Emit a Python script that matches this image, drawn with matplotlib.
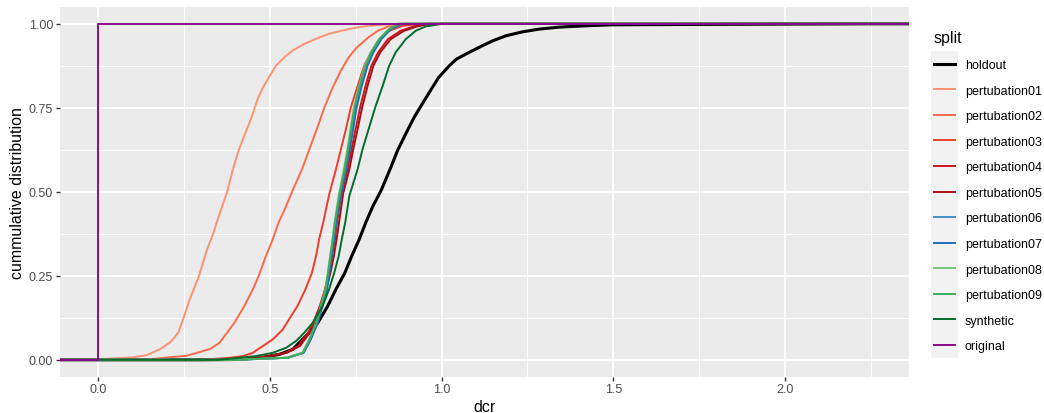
import matplotlib
matplotlib.use("Agg")
import matplotlib.pyplot as plt
from matplotlib.patches import Rectangle
from matplotlib.ticker import MultipleLocator

plt.rcParams['font.family'] = ['Liberation Sans', 'DejaVu Sans']

# ECDF curves: dcr value and cumulative share at that value
holdout_dcr = [0.30, 0.41, 0.469, 0.527, 0.566, 0.614, 0.639, 0.668, 0.692, 0.718, 0.738, 0.760, 0.779,
               0.800, 0.824, 0.852, 0.871, 0.895, 0.920, 0.940, 0.964, 0.991, 1.022, 1.043, 1.080, 1.119,
               1.148, 1.186, 1.235, 1.283, 1.341, 1.418, 1.495, 1.70, 2.24]
holdout_cdf = [0.0, 0.001, 0.006, 0.016, 0.031, 0.081, 0.110, 0.160, 0.210, 0.259, 0.309, 0.359, 0.409,
               0.458, 0.505, 0.573, 0.622, 0.672, 0.722, 0.756, 0.796, 0.840, 0.875, 0.895, 0.915, 0.935,
               0.949, 0.964, 0.976, 0.984, 0.990, 0.994, 0.997, 0.998, 1.0]

pert01_dcr = [0.0, 0.02, 0.10, 0.141, 0.180, 0.209, 0.233, 0.250, 0.266, 0.293, 0.317, 0.334, 0.351, 0.375,
              0.392, 0.409, 0.429, 0.448, 0.464, 0.479, 0.496, 0.517, 0.541, 0.565, 0.599, 0.633, 0.671,
              0.710, 0.748, 0.787, 0.825, 0.90]
pert01_cdf = [0.0, 0.003, 0.007, 0.014, 0.032, 0.052, 0.081, 0.131, 0.180, 0.250, 0.330, 0.375, 0.429, 0.500,
              0.568, 0.625, 0.677, 0.727, 0.777, 0.810, 0.840, 0.875, 0.900, 0.920, 0.940, 0.955, 0.970,
              0.980, 0.988, 0.994, 0.997, 1.0]

pert02_dcr = [0.05, 0.15, 0.257, 0.325, 0.353, 0.396, 0.425, 0.450, 0.467, 0.488, 0.508, 0.525, 0.547, 0.564,
              0.593, 0.614, 0.636, 0.658, 0.683, 0.706, 0.729, 0.753, 0.787, 0.815, 0.845, 0.93]
pert02_cdf = [0.0, 0.002, 0.012, 0.032, 0.051, 0.110, 0.160, 0.210, 0.250, 0.309, 0.359, 0.409, 0.458, 0.500,
              0.567, 0.625, 0.686, 0.750, 0.812, 0.860, 0.900, 0.930, 0.960, 0.980, 0.992, 1.0]

pert03_dcr = [0.30, 0.382, 0.421, 0.450, 0.479, 0.508, 0.537, 0.561, 0.580, 0.603, 0.622, 0.634, 0.643, 0.655,
              0.665, 0.673, 0.692, 0.706, 0.721, 0.735, 0.755, 0.774, 0.794, 0.818, 0.847, 0.886, 0.94]
pert03_cdf = [0.0, 0.006, 0.011, 0.021, 0.041, 0.061, 0.090, 0.130, 0.160, 0.210, 0.259, 0.309, 0.359, 0.409,
              0.458, 0.495, 0.567, 0.625, 0.686, 0.750, 0.815, 0.875, 0.915, 0.954, 0.979, 0.994, 1.0]

pert04_dcr = [0.35, 0.495, 0.545, 0.582, 0.611, 0.626, 0.645, 0.660, 0.671, 0.681, 0.689, 0.695, 0.708, 0.726,
              0.737, 0.749, 0.762, 0.778, 0.795, 0.815, 0.843, 0.880, 0.918, 0.955]
pert04_cdf = [0.0, 0.011, 0.021, 0.041, 0.081, 0.110, 0.160, 0.210, 0.259, 0.309, 0.359, 0.409, 0.495, 0.567,
              0.625, 0.686, 0.750, 0.815, 0.875, 0.915, 0.954, 0.979, 0.992, 1.0]

pert05_dcr = [0.38, 0.50, 0.549, 0.587, 0.616, 0.632, 0.650, 0.664, 0.676, 0.686, 0.694, 0.701, 0.713, 0.731,
              0.742, 0.755, 0.768, 0.784, 0.801, 0.821, 0.851, 0.890, 0.928, 0.965]
pert05_cdf = [0.0, 0.011, 0.021, 0.041, 0.081, 0.110, 0.160, 0.210, 0.259, 0.309, 0.359, 0.409, 0.495, 0.567,
              0.625, 0.686, 0.750, 0.815, 0.875, 0.915, 0.954, 0.979, 0.992, 1.0]

pert06_dcr = [0.40, 0.55, 0.597, 0.617, 0.637, 0.651, 0.664, 0.671, 0.678, 0.685, 0.691, 0.705, 0.720, 0.730,
              0.740, 0.750, 0.765, 0.782, 0.799, 0.822, 0.850, 0.88]
pert06_cdf = [0.0, 0.006, 0.021, 0.061, 0.110, 0.160, 0.210, 0.259, 0.309, 0.359, 0.409, 0.495, 0.567, 0.625,
              0.686, 0.750, 0.815, 0.875, 0.915, 0.954, 0.984, 1.0]

pert07_dcr = [0.40, 0.552, 0.598, 0.619, 0.639, 0.653, 0.666, 0.673, 0.680, 0.687, 0.693, 0.707, 0.722, 0.732,
              0.742, 0.752, 0.767, 0.784, 0.801, 0.824, 0.852, 0.885]
pert07_cdf = [0.0, 0.006, 0.021, 0.061, 0.110, 0.160, 0.210, 0.259, 0.309, 0.359, 0.409, 0.495, 0.567, 0.625,
              0.686, 0.750, 0.815, 0.875, 0.915, 0.954, 0.984, 1.0]

pert08_dcr = [0.40, 0.547, 0.595, 0.614, 0.634, 0.648, 0.661, 0.668, 0.675, 0.682, 0.688, 0.701, 0.715, 0.725,
              0.734, 0.744, 0.759, 0.776, 0.793, 0.817, 0.845, 0.872]
pert08_cdf = [0.0, 0.006, 0.021, 0.061, 0.110, 0.160, 0.210, 0.259, 0.309, 0.359, 0.409, 0.495, 0.567, 0.625,
              0.686, 0.750, 0.815, 0.875, 0.915, 0.954, 0.984, 1.0]

pert09_dcr = [0.40, 0.549, 0.596, 0.615, 0.635, 0.649, 0.662, 0.669, 0.676, 0.683, 0.689, 0.703, 0.717, 0.727,
              0.736, 0.746, 0.761, 0.778, 0.795, 0.818, 0.847, 0.876]
pert09_cdf = [0.0, 0.006, 0.021, 0.061, 0.110, 0.160, 0.210, 0.259, 0.309, 0.359, 0.409, 0.495, 0.567, 0.625,
              0.686, 0.750, 0.815, 0.875, 0.915, 0.954, 0.984, 1.0]

synthetic_dcr = [0.35, 0.459, 0.508, 0.547, 0.576, 0.600, 0.624, 0.653, 0.672, 0.687, 0.700, 0.709, 0.719,
                 0.731, 0.755, 0.769, 0.787, 0.806, 0.828, 0.847, 0.866, 0.895, 0.924, 0.953, 1.0]
synthetic_cdf = [0.0, 0.011, 0.021, 0.036, 0.056, 0.081, 0.110, 0.160, 0.210, 0.259, 0.309, 0.359, 0.409,
                 0.488, 0.567, 0.625, 0.686, 0.750, 0.815, 0.875, 0.915, 0.954, 0.979, 0.992, 1.0]

original_dcr = [0.0, 0.0]
original_cdf = [0.0, 1.0]

splits = ["holdout", "pertubation01", "pertubation02", "pertubation03", "pertubation04", "pertubation05",
          "pertubation06", "pertubation07", "pertubation08", "pertubation09", "synthetic", "original"]
curves = [(holdout_dcr, holdout_cdf), (pert01_dcr, pert01_cdf), (pert02_dcr, pert02_cdf),
          (pert03_dcr, pert03_cdf), (pert04_dcr, pert04_cdf), (pert05_dcr, pert05_cdf),
          (pert06_dcr, pert06_cdf), (pert07_dcr, pert07_cdf), (pert08_dcr, pert08_cdf),
          (pert09_dcr, pert09_cdf), (synthetic_dcr, synthetic_cdf), (original_dcr, original_cdf)]
colors = ["#000000", "#FC9272", "#FB6A4A", "#EF3B2C", "#CB181D", "#A50F15",
          "#4292C6", "#2171B5", "#74C476", "#41AB5D", "#006D2C", "#8B0A8B"]

XMIN, XMAX = -0.112, 2.36

fig = plt.figure(figsize=(10.44, 4.14), dpi=100)
ax = fig.add_axes([60 / 1044, 36.4 / 414, 848.5 / 1044, 369.6 / 414])
ax.set_facecolor("#EBEBEB")

handles = []
for name, (xs, ps), col in zip(splits, curves, colors):
    lw = 2.2 if name == "holdout" else 1.4
    # ecdf is padded to the panel edges like stat_ecdf
    line, = ax.plot([XMIN] + list(xs) + [XMAX], [0.0] + list(ps) + [1.0],
                    color=col, lw=lw, label=name, solid_joinstyle="round")
    handles.append(line)

ax.set_xlim(XMIN, XMAX)
ax.set_ylim(-0.05, 1.05)
ax.xaxis.set_major_locator(MultipleLocator(0.5))
ax.xaxis.set_minor_locator(MultipleLocator(0.25))
ax.yaxis.set_major_locator(MultipleLocator(0.25))
ax.yaxis.set_minor_locator(MultipleLocator(0.125))
ax.xaxis.set_major_formatter(matplotlib.ticker.FormatStrFormatter("%.1f"))
ax.yaxis.set_major_formatter(matplotlib.ticker.FormatStrFormatter("%.2f"))
ax.grid(which="major", color="white", lw=1.42)
ax.grid(which="minor", color="white", lw=0.71)
ax.set_axisbelow(True)
for s in ax.spines.values():
    s.set_visible(False)
ax.tick_params(which="major", length=2.75, width=1.0, color="#333333", labelcolor="#4D4D4D",
               labelsize=9.0, pad=2.2)
ax.tick_params(which="minor", length=0)
ax.set_xlabel("dcr", fontsize=11.5, labelpad=2.5)
ax.set_ylabel("cummulative distribution", fontsize=11.5, labelpad=3)

leg = fig.legend(handles, splits, loc="upper left", bbox_to_anchor=(934 / 1044, 1 - 31.5 / 414),
                 frameon=False, fontsize=9.0, title="split", title_fontsize=11.5, alignment="left",
                 handlelength=1.64, handletextpad=0.82, labelspacing=1.085, borderpad=0, borderaxespad=0)

# grey key column behind the legend lines
fig.canvas.draw()
r = fig.canvas.get_renderer()
ext = [h.get_window_extent(r) for h in leg.legend_handles]
x0 = min(e.x0 for e in ext) - 3
x1 = max(e.x1 for e in ext) + 3
ytop = max((e.y0 + e.y1) / 2 for e in ext)
ybot = min((e.y0 + e.y1) / 2 for e in ext)
half = (ytop - ybot) / (len(ext) - 1) / 2
W, H = fig.bbox.width, fig.bbox.height
fig.patches.append(Rectangle((x0 / W, (ybot - half) / H), (x1 - x0) / W, (ytop - ybot + 2 * half) / H,
                             transform=fig.transFigure, facecolor="#F2F2F2", edgecolor="none", zorder=0))

fig.savefig("out.png", dpi=100)
